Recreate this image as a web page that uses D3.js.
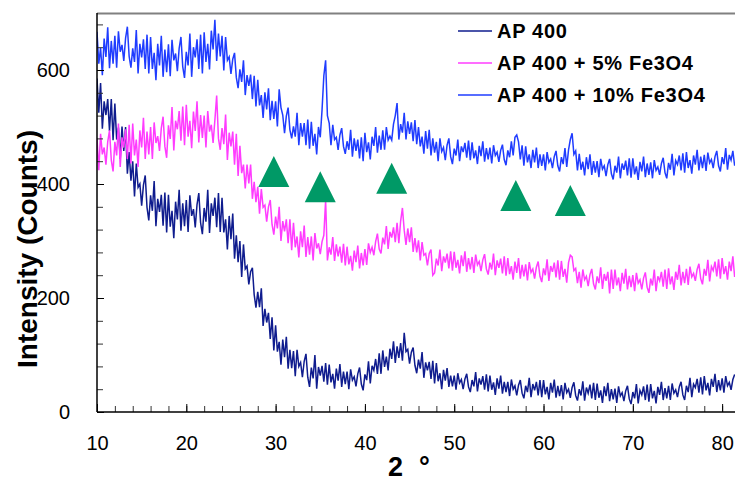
<!DOCTYPE html>
<html>
<head>
<meta charset="utf-8">
<script src="https://cdn.jsdelivr.net/npm/d3@7"></script>
<style>
  body { margin: 0; background: #fff; }
  text { font-family: Arial, "Liberation Sans", sans-serif; fill: #000; }
</style>
</head>
<body>
<div id="chart"></div>
<script>
/* scan settings: 2theta from 10 deg, one reading every 0.2 deg */
var twoThetaStart = 10
var twoThetaStep = 0.2

var seriesNames = ["AP 400", "AP 400 + 5% Fe3O4", "AP 400 + 10% Fe3O4"]

/* counts, five readings per degree */
var ap400 = [
  585,525,577,497,545, 521,549,493,549,477, 541,478,499,444,501, 458,500,418,456,406,
  440,378,436,394,400, 362,398,415,359,336, 380,353,405,326,374, 351,381,327,385,315,
  381,325,353,305,369, 338,390,318,366,326, 372,316,380,344,356, 324,364,384,332,312,
  358,334,390,314,366, 344,376,324,384,316, 376,315,338,285,344, 303,348,269,310,263,
  300,237,294,251,256, 224,246,253,206,183, 211,184,217,151,181, 157,174,128,166,108,
  152,106,123,83,127, 96,132,76,109,77, 107,63,109,80,87, 61,89,102,61,44,
  78,59,100,41,79, 64,81,53,86,48, 83,52,67,41,76, 55,84,44,71,49,
  71,40,75,56,62, 45,67,78,49,38, 66,56,89,50,81, 73,93,67,103,67,
  108,79,97,73,111, 93,124,86,115,95, 121,90,139,106,110, 85,105,113,82,68,
  92,76,105,60,87, 73,88,58,90,50, 86,54,68,40,74, 55,77,44,64,45,
  64,39,68,51,57, 40,58,67,44,35, 56,45,70,36,59, 48,63,39,66,36,
  64,39,52,30,59, 41,64,32,53,35, 53,28,57,40,46, 29,47,56,33,24,
  46,35,60,26,49, 38,53,29,56,26, 56,31,44,22,51, 34,57,25,46,28,
  47,22,51,34,40, 25,43,52,29,20, 40,29,54,20,43, 33,48,24,51,21,
  50,25,38,16,45, 28,51,19,40,22, 41,16,45,28,34, 19,37,46,23,14,
  35,24,49,15,38, 30,45,21,48,18, 49,24,37,15,44, 30,53,21,42,24,
  46,21,50,33,39, 26,44,53,30,21, 46,35,60,26,49, 43,58,34,61,31,
  63,38,51,29,58, 44,67,35,56,38, 59,34,63,46,52, 39,57,66
]

var fe5 = [
  480,424,488,452,464, 434,474,494,442,422, 474,450,506,430,482, 464,496,444,504,436,
  506,450,478,430,494, 464,516,444,492,452, 500,444,508,472,484, 458,498,518,466,446,
  503,479,535,459,511, 496,528,476,536,468, 539,483,511,463,527, 493,545,473,521,481,
  520,464,528,492,504, 472,512,555,480,460, 498,470,522,442,490, 466,492,434,488,414,
  467,419,434,392,434, 401,434,374,404,368, 395,348,391,359,363, 334,360,372,329,311,
  343,322,360,300,335, 317,338,296,338,284, 332,289,308,271,317, 289,327,272,307,276,
  308,266,314,287,296, 277,299,310,372,266, 289,276,307,265,294, 273,290,262,295,257,
  290,259,274,248,283, 263,292,252,279,257, 286,258,296,280,289, 275,299,313,286,278,
  306,294,326,286,316, 306,324,298,332,296, 335,358,319,293,322, 298,324,281,305,280,
  301,266,298,275,278, 257,278,285,240,244, 269,257,285,247,273, 262,278,252,282,248,
  281,253,267,243,275, 256,282,246,270,250, 272,244,276,258,264, 247,267,277,251,241,
  262,250,278,240,266, 253,269,243,273,239, 270,242,256,232,264, 244,270,234,258,238,
  259,231,263,245,251, 234,254,264,238,228, 252,240,268,230,256, 246,262,236,266,232,
  265,237,251,227,262, 275,272,248,252,226, 246,218,250,232,238, 221,241,251,225,215,
  238,226,254,216,242, 230,246,208,250,216, 250,222,236,212,244, 225,251,215,239,219,
  240,212,244,226,232, 215,235,245,219,209, 234,222,250,212,238, 230,246,220,250,216,
  252,224,238,214,246, 232,258,222,246,226, 251,223,255,237,243, 230,250,260,234,224,
  251,239,267,229,255, 248,264,238,268,234, 270,242,256,232,264, 247,273,237
]

var fe10 = [
  667,611,639,591,655, 623,675,603,651,611, 660,604,668,632,644, 616,656,676,624,604,
  638,614,670,594,646, 622,654,602,662,594, 658,602,630,582,646, 608,660,588,636,596,
  645,589,653,617,629, 598,638,658,606,586, 632,608,664,588,640, 622,654,602,662,594,
  666,614,646,601,669, 636,688,616,664,624, 660,599,658,617,623, 593,619,630,587,568,
  601,579,617,556,591, 572,592,549,590,536, 583,538,556,516,561, 531,568,512,546,514,
  545,501,566,534,521, 489,519,534,495,480, 501,483,525,468,507, 483,507,468,513,462,
  509,467,488,452,500, 482,530,590,617,520, 507,468,504,478,482, 460,486,498,466,453,
  475,460,495,448,480, 458,478,445,482,440, 490,456,473,443,483, 467,500,455,485,460,
  494,460,500,477,484, 477,505,520,542,478, 505,490,525,478,510, 488,508,475,512,470,
  500,466,483,453,493, 462,495,450,480,455, 474,440,480,457,464, 442,468,480,448,435,
  462,450,478,440,466, 456,472,446,476,442, 473,445,459,435,467, 449,475,439,463,443,
  464,436,468,450,456, 439,459,469,443,433, 459,447,475,450,482, 486,474,443,468,432,
  466,438,452,428,460, 438,464,428,452,432, 452,424,456,438,444, 428,448,458,432,422,
  447,435,463,430,460, 478,489,452,458,424, 453,425,439,415,447, 426,452,416,440,420,
  440,412,444,426,432, 414,434,444,418,408, 432,420,448,410,436, 425,441,415,445,411,
  445,417,431,407,439, 422,448,412,436,416, 438,410,442,424,430, 416,436,446,420,410,
  437,425,453,415,441, 434,450,424,454,420, 456,428,442,418,450, 434,460,424,448,428,
  451,423,455,437,443, 428,448,458,432,422, 447,435,463,425,451, 442,458,432
]

var seriesValues = [ap400, fe5, fe10]
var seriesColors = ["#0f1c8e", "#ff3cff", "#1f3cff"]

var xTicks = [10, 20, 30, 40, 50, 60, 70, 80]
var xMinorTicks = d3.range(10, 82, 2)
var yTicks = [0, 200, 400, 600]
var yMinorTicks = d3.range(0, 701, 40)

/* peak markers (green triangles): 2theta and height */
var markTheta = [29.8, 35.0, 43.0, 56.9, 63.0]
var markCounts = [422, 395, 410, 380, 371]

var width = 735
var height = 483

var layout = {
  left: 97,
  right: 740,
  top: 13,
  bottom: 412
}

var x = d3.scaleLinear().domain([10, 82]).range([layout.left, layout.right])
var y = d3.scaleLinear().domain([0, 700]).range([layout.bottom, layout.top])

var svg = d3.select("#chart")
  .append("svg")
  .attr("width", width)
  .attr("height", height)

svg.append("defs").append("clipPath")
  .attr("id", "plot-clip")
  .append("rect")
  .attr("x", layout.left)
  .attr("y", layout.top)
  .attr("width", width - layout.left)
  .attr("height", layout.bottom - layout.top)

/* series lines */
var line = d3.line()
  .x(function(d, i) { return x(twoThetaStart + i * twoThetaStep) })
  .y(function(d) { return y(d) })

var plot = svg.append("g").attr("clip-path", "url(#plot-clip)")

seriesValues.forEach(function(values, k) {
  plot.append("path")
    .datum(values)
    .attr("fill", "none")
    .attr("stroke", seriesColors[k])
    .attr("stroke-width", 1.5)
    .attr("d", line)
})

/* triangles */
plot.selectAll(".mark")
  .data(markTheta)
  .enter()
  .append("path")
  .attr("class", "mark")
  .attr("fill", "#009966")
  .attr("d", function(d, i) {
    var cx = x(d), cy = y(markCounts[i])
    return "M" + cx + "," + (cy - 15.5) +
      "L" + (cx + 15.5) + "," + (cy + 15.5) +
      "L" + (cx - 15.5) + "," + (cy + 15.5) + "Z"
  })

/* frame: grey top border */
svg.append("line")
  .attr("x1", layout.left).attr("x2", width)
  .attr("y1", layout.top + 0.5).attr("y2", layout.top + 0.5)
  .attr("stroke", "#808080")
  .attr("stroke-width", 2)

/* x axis, ticks point inward */
var xAxis = svg.append("g")
  .attr("transform", "translate(0," + layout.bottom + ")")
  .call(d3.axisBottom(x).tickValues(xMinorTicks).tickSize(-6).tickFormat(""))
xAxis.select(".domain").remove()
xAxis.selectAll("line").attr("stroke", "#333")

var xMajor = svg.append("g")
  .attr("transform", "translate(0," + layout.bottom + ")")
  .call(d3.axisBottom(x).tickValues(xTicks).tickSize(-8).tickPadding(24).tickFormat(d3.format("d")))
xMajor.select(".domain").remove()
xMajor.selectAll("line").attr("stroke", "#000")
xMajor.selectAll("text")
  .attr("font-size", "20px")
  .attr("font-family", "Arial, 'Liberation Sans', sans-serif")
  .attr("fill", "#000")

/* y axis */
var yAxis = svg.append("g")
  .attr("transform", "translate(" + layout.left + ",0)")
  .call(d3.axisLeft(y).tickValues(yMinorTicks).tickSize(-6).tickFormat(""))
yAxis.select(".domain").remove()
yAxis.selectAll("line").attr("stroke", "#333")

var yMajor = svg.append("g")
  .attr("transform", "translate(" + layout.left + ",0)")
  .call(d3.axisLeft(y).tickValues(yTicks).tickSize(-7).tickPadding(27).tickFormat(d3.format("d")))
yMajor.select(".domain").remove()
yMajor.selectAll("line").attr("stroke", "#000")
yMajor.selectAll("text")
  .attr("font-size", "20px")
  .attr("font-family", "Arial, 'Liberation Sans', sans-serif")
  .attr("fill", "#000")

svg.append("line")
  .attr("x1", layout.left).attr("x2", width)
  .attr("y1", layout.bottom).attr("y2", layout.bottom)
  .attr("stroke", "#000").attr("stroke-width", 1.5)
svg.append("line")
  .attr("x1", layout.left).attr("x2", layout.left)
  .attr("y1", layout.top).attr("y2", layout.bottom)
  .attr("stroke", "#000").attr("stroke-width", 1.5)

/* axis titles */
svg.append("text")
  .attr("transform", "translate(37,249) rotate(-90)")
  .attr("text-anchor", "middle")
  .attr("font-size", "28px")
  .attr("font-weight", "bold")
  .text("Intensity (Counts)")

svg.append("text")
  .attr("x", 388).attr("y", 476)
  .attr("font-size", "27px")
  .attr("font-weight", "bold")
  .text("2")
svg.append("text")
  .attr("x", 419).attr("y", 476)
  .attr("font-size", "27px")
  .attr("font-weight", "bold")
  .text("°")

/* legend */
var legend = svg.append("g").attr("class", "legend")
seriesNames.forEach(function(name, k) {
  var ly = 31 + k * 32
  legend.append("line")
    .attr("x1", 458).attr("x2", 492)
    .attr("y1", ly).attr("y2", ly)
    .attr("stroke", seriesColors[k])
    .attr("stroke-width", 1.5)
  legend.append("text")
    .attr("x", 497).attr("y", ly + 7)
    .attr("font-size", "20px")
    .attr("font-weight", "bold")
    .attr("letter-spacing", "0.7px")
    .text(name)
})
</script>
</body>
</html>
